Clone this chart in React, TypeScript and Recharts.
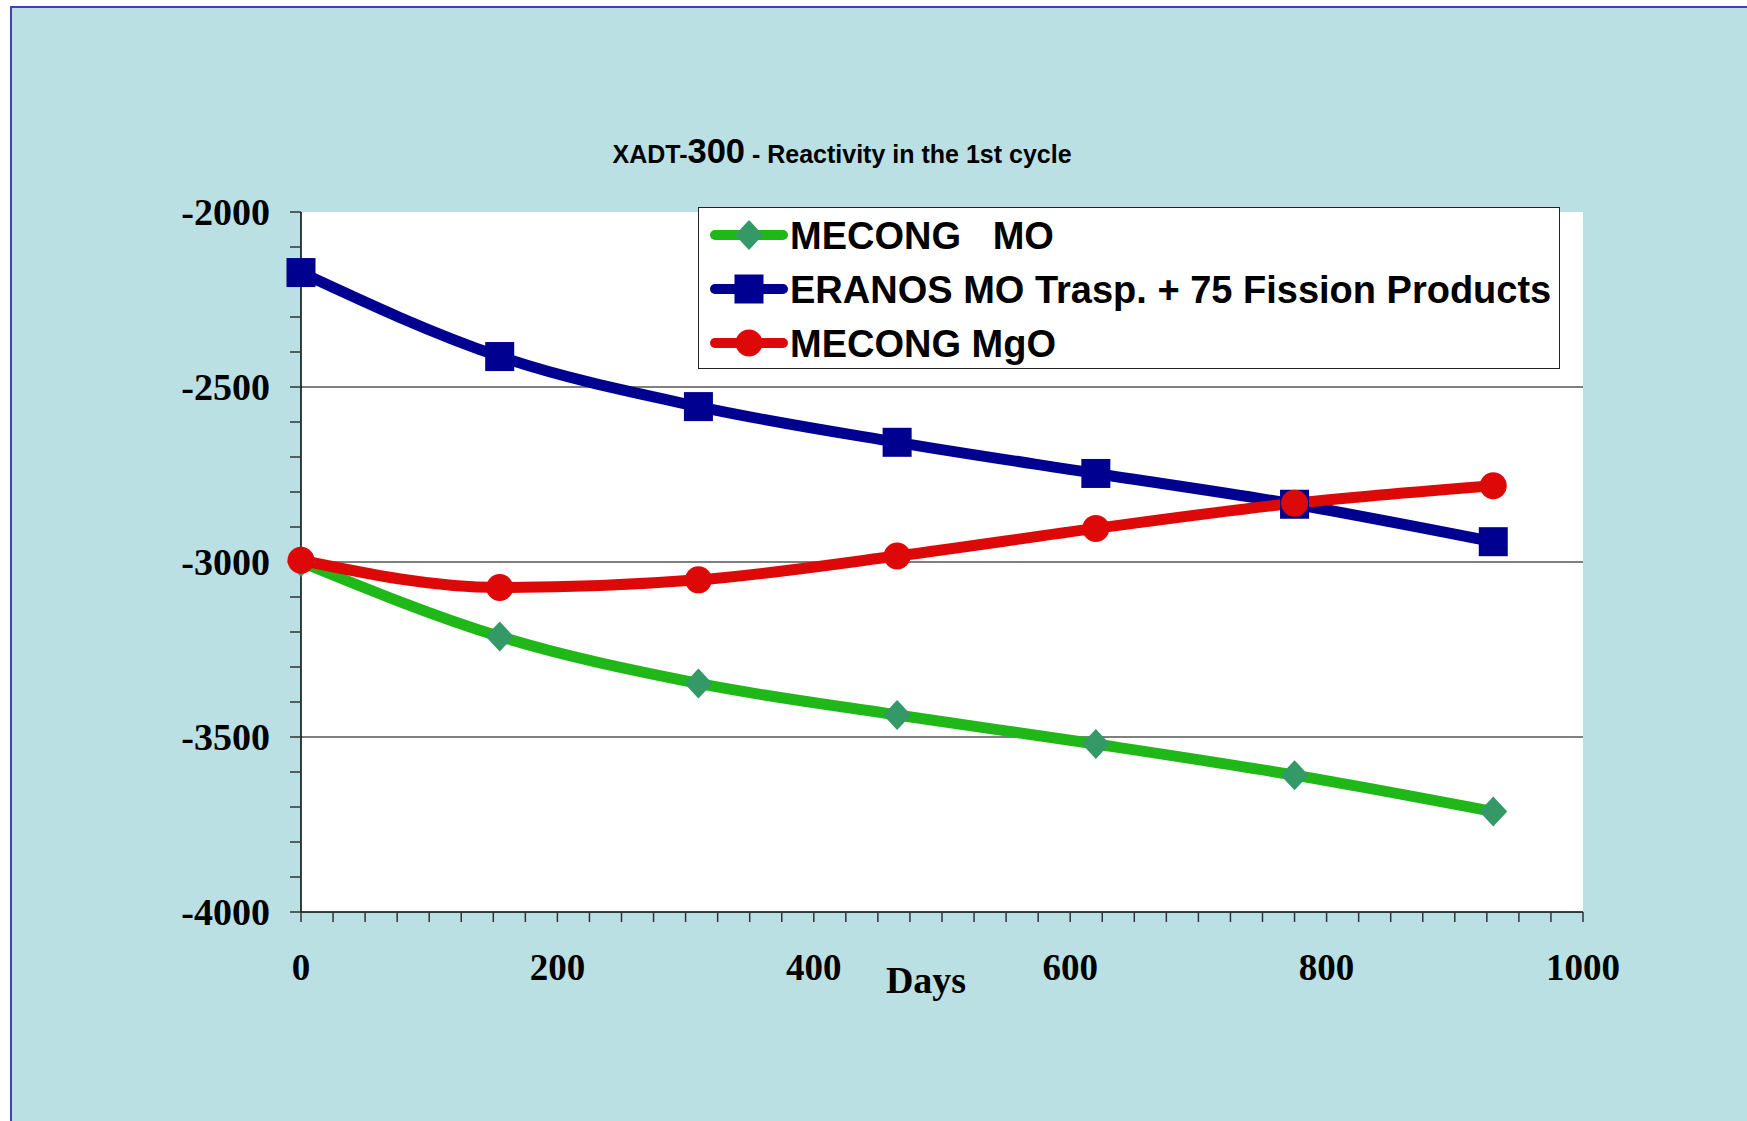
import React from "react"
import { LineChart, Line, XAxis, YAxis, ReferenceArea, ReferenceLine } from "recharts"

const days = [0, 155, 310, 465, 620, 775, 930]
const mecongMO = [-3000, -3213, -3347, -3437, -3520, -3609, -3713]
const eranosMO = [-2173, -2413, -2556, -2658, -2747, -2835, -2942]
const mecongMgO = [-2995, -3073, -3051, -2983, -2904, -2832, -2782]

const xTicks = [
  0, 25, 50, 75, 100, 125, 150, 175, 200, 225, 250, 275, 300, 325, 350, 375, 400, 425, 450, 475, 500,
  525, 550, 575, 600, 625, 650, 675, 700, 725, 750, 775, 800, 825, 850, 875, 900, 925, 950, 975, 1000,
]
const xLabels = [0, 200, 400, 600, 800, 1000]
const yTicks = [
  -4000, -3900, -3800, -3700, -3600, -3500, -3400, -3300, -3200, -3100, -3000,
  -2900, -2800, -2700, -2600, -2500, -2400, -2300, -2200, -2100, -2000,
]
const yLabels = [-4000, -3500, -3000, -2500, -2000]
const gridValues = [-3500, -3000, -2500]

const series = [
  { key: "mo", name: "MECONG   MO", values: mecongMO, line: "#20B818", mark: "#339966", shape: "diamond" },
  { key: "eranos", name: "ERANOS MO Trasp. + 75 Fission Products", values: eranosMO, line: "#000090", mark: "#000090", shape: "square" },
  { key: "mgo", name: "MECONG MgO", values: mecongMgO, line: "#DD0808", mark: "#DD0808", shape: "circle" },
]

const data = days.map((d, i) => ({
  day: d,
  mo: mecongMO[i],
  eranos: eranosMO[i],
  mgo: mecongMgO[i],
}))

function Marker({ shape, color, cx, cy }: { shape: string; color: string; cx: number; cy: number }) {
  if (shape === "square") return <rect x={cx - 14.5} y={cy - 14.5} width={29} height={29} fill={color} />
  if (shape === "circle") return <circle cx={cx} cy={cy} r={13.5} fill={color} />
  return <polygon points={`${cx},${cy - 15} ${cx + 14},${cy} ${cx},${cy + 15} ${cx - 14},${cy}`} fill={color} />
}

const serif = "'Liberation Serif', 'Times New Roman', serif"
const sans = "'Liberation Sans', Arial, sans-serif"

export default function App() {
  return (
    <div style={{ position: "absolute", left: 0, top: 0, width: 1747, height: 1121, background: "#fff", overflow: "hidden" }}>
      <div
        style={{
          position: "absolute",
          left: 10,
          top: 6,
          width: 1737,
          height: 1115,
          background: "#BAE0E3",
          borderLeft: "2px solid #3F44A8",
          borderTop: "2px solid #3F44A8",
          boxSizing: "border-box",
        }}
      />
      <div style={{ position: "absolute", left: 0, top: 0 }}>
        <LineChart width={1747} height={1121} data={data} margin={{ top: 212, right: 164, bottom: 109, left: 161 }}>
          <ReferenceArea x1={0} x2={1000} y1={-4000} y2={-2000} fill="#fff" fillOpacity={1} stroke="none" />
          {gridValues.map((v) => (
            <ReferenceLine key={v} y={v} stroke="#555" strokeWidth={1.5} />
          ))}
          <XAxis
            dataKey="day"
            type="number"
            domain={[0, 1000]}
            ticks={xTicks}
            interval={0}
            height={100}
            stroke="#000"
            tickSize={10}
            tickMargin={32}
            tickLine={{ stroke: "#333", strokeWidth: 1.5 }}
            axisLine={{ stroke: "#000", strokeWidth: 1.5 }}
            tick={{ fill: "#000", fontFamily: serif, fontWeight: "bold", fontSize: 37 }}
            tickFormatter={(v) => (xLabels.includes(v) ? `${v}` : "")}
          />
          <YAxis
            type="number"
            domain={[-4000, -2000]}
            ticks={yTicks}
            interval={0}
            width={140}
            stroke="#000"
            tickSize={11}
            tickMargin={20}
            tickLine={{ stroke: "#333", strokeWidth: 1.5 }}
            axisLine={{ stroke: "#000", strokeWidth: 1.5 }}
            tick={{ fill: "#000", fontFamily: serif, fontWeight: "bold", fontSize: 38 }}
            tickFormatter={(v) => (yLabels.includes(v) ? `${v}` : "")}
          />
          {series.map((s) => (
            <Line
              key={s.key}
              dataKey={s.key}
              name={s.name}
              type="monotone"
              stroke={s.line}
              strokeWidth={11}
              isAnimationActive={false}
              dot={(p: any) => <Marker key={`${s.key}-${p.index}`} shape={s.shape} color={s.mark} cx={p.cx} cy={p.cy} />}
              activeDot={false}
            />
          ))}
        </LineChart>
      </div>
      <svg width={1747} height={1121} style={{ position: "absolute", left: 0, top: 0, pointerEvents: "none" }}>
        <text x={842} y={163} textAnchor="middle" fontFamily={sans} fontWeight="bold" fontSize={25} fill="#000">
          XADT-<tspan fontSize={34.5}>300</tspan> - Reactivity in the 1st cycle
        </text>
        <text x={926} y={993} textAnchor="middle" fontFamily={serif} fontWeight="bold" fontSize={38} fill="#000">
          Days
        </text>
      </svg>
      <div
        style={{
          position: "absolute",
          left: 698,
          top: 207,
          width: 862,
          height: 162,
          background: "#fff",
          border: "1.5px solid #222",
          boxSizing: "border-box",
        }}
      >
        <svg width={862} height={162}>
          {series.map((s, i) => {
            const cy = 27 + i * 54
            return (
              <g key={s.key}>
                <line x1={16} x2={84} y1={cy} y2={cy} stroke={s.line} strokeWidth={10} strokeLinecap="round" />
                <Marker shape={s.shape} color={s.mark} cx={50} cy={cy} />
                <text
                  x={91}
                  y={cy}
                  dy="0.36em"
                  fontFamily={sans}
                  fontWeight="bold"
                  fontSize={38}
                  fill="#000"
                  style={{ whiteSpace: "pre" }}
                >
                  {s.name}
                </text>
              </g>
            )
          })}
        </svg>
      </div>
    </div>
  )
}
